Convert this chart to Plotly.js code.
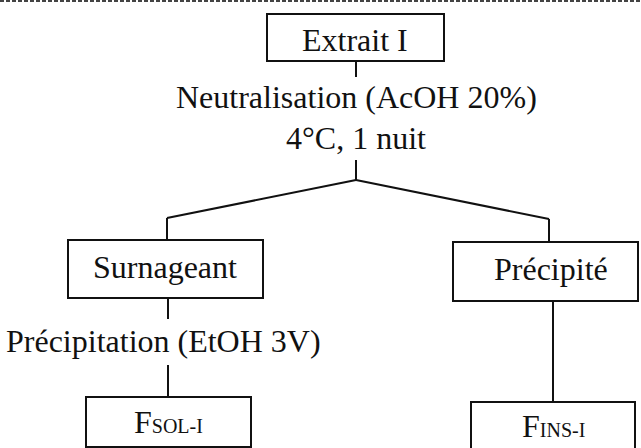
<!DOCTYPE html>
<html>
<head>
<meta charset="utf-8">
<script src="https://cdn.plot.ly/plotly-3.0.1.min.js"></script>
<style>html,body{margin:0;padding:0;background:#fff;}#chart{width:641px;height:448px;}</style>
</head>
<body>
<div id="chart"></div>
<script>
// Node labels of the flowchart
const nodeLabels = ["Extrait I", "Surnageant", "Précipité", "F<span style=\"font-size:20px\">SOL-I</span>", "F<span style=\"font-size:20px\">INS-I</span>"];
// Step labels (text between nodes)
const stepLabels = ["Neutralisation (AcOH 20%)", "4°C, 1 nuit", "Précipitation (EtOH 3V)"];

// Layout geometry (pixel space, y down)
const boxes = [
  {x0:267, x1:444, y0:14,  y1:61,  cx:355, cy:40},
  {x0:68,  x1:263, y0:240, y1:298, cx:165, cy:267},
  {x0:453, x1:638, y0:242, y1:301, cx:551, cy:269},
  {x0:86,  x1:251, y0:397, y1:447, cx:168, cy:422},
  {x0:471, x1:635, y0:402, y1:452, cx:553, cy:426}
];
const stepPos = [ {x:356, y:97}, {x:356, y:138}, {x:163, y:341} ];
const connectors = [
  [356,61,356,77], [356,160,356,180],
  [356,180,167,218], [167,218,167,240],
  [356,180,549,219], [549,219,549,242],
  [168,298,168,319], [168,365,168,397],
  [553,301,553,402]
];

const font = {family: "Liberation Serif, Times New Roman, serif", size: 32, color: "#111"};
const shapes = [];
const annotations = [];

boxes.forEach((b, i) => {
  shapes.push({type:'rect', xref:'x', yref:'y', x0:b.x0, x1:b.x1, y0:b.y0, y1:b.y1,
    line:{color:'#111', width:2}, fillcolor:'rgba(0,0,0,0)'});
  annotations.push({x:b.cx, y:b.cy, xref:'x', yref:'y', text:nodeLabels[i], showarrow:false,
    xanchor:'center', yanchor:'middle', font:font});
});
stepLabels.forEach((t, i) => {
  annotations.push({x:stepPos[i].x, y:stepPos[i].y, xref:'x', yref:'y', text:t, showarrow:false,
    xanchor:'center', yanchor:'middle', font:font, bgcolor:'rgba(0,0,0,0)'});
});
connectors.forEach(c => {
  shapes.push({type:'line', xref:'x', yref:'y', x0:c[0], y0:c[1], x1:c[2], y1:c[3],
    line:{color:'#111', width:2}});
});
// dashed page border at top
shapes.push({type:'line', xref:'paper', yref:'y', x0:0, x1:1, y0:1, y1:1,
  line:{color:'#444', width:2, dash:'4px,2px'}});

Plotly.newPlot('chart', [], {
  width: 641, height: 448,
  margin: {l:0, r:0, t:0, b:0},
  paper_bgcolor: '#fff', plot_bgcolor: '#fff',
  xaxis: {range:[0,641], visible:false, fixedrange:true},
  yaxis: {range:[448,0], visible:false, fixedrange:true},
  showlegend: false,
  shapes: shapes,
  annotations: annotations
}, {staticPlot: true, displayModeBar: false});
</script>
</body>
</html>
